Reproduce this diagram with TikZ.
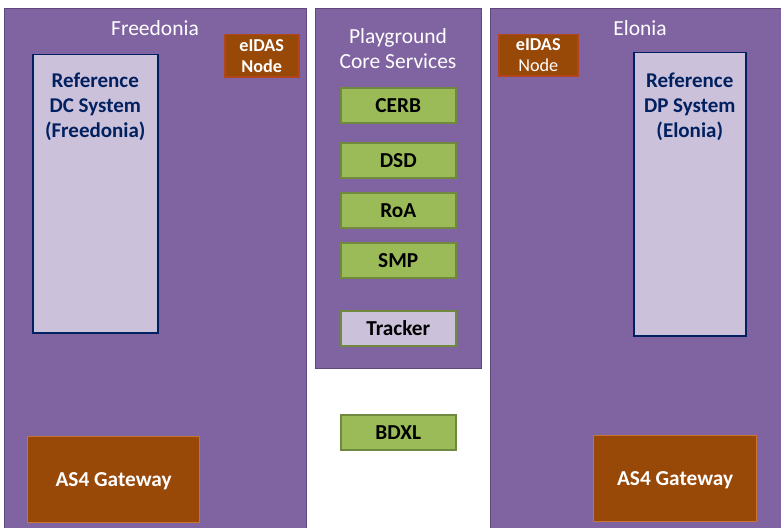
\documentclass[tikz,border=0pt]{standalone}
\usepackage{fontspec}
\setmainfont{Carlito}
\definecolor{panelfill}{HTML}{8064A2}
\definecolor{paneldraw}{HTML}{5E497C}
\definecolor{lavender}{HTML}{CCC1DA}
\definecolor{navy}{HTML}{002060}
\definecolor{brownfill}{HTML}{984807}
\definecolor{eidasdraw}{HTML}{B0451E}
\definecolor{gwdraw}{HTML}{C8732E}
\definecolor{greenfill}{HTML}{9BBB59}
\definecolor{greendraw}{HTML}{71893F}
\tikzset{
  panel/.style={draw=paneldraw, fill=panelfill, line width=1pt, anchor=north west, inner sep=0pt},
  paneltitle/.style={text=white, font=\fontsize{21.5}{25}\selectfont, align=center, inner sep=0pt},
  refsys/.style={draw=navy, fill=lavender, line width=1.5pt, anchor=north west, inner sep=0pt},
  reftext/.style={text=navy, font=\bfseries\fontsize{21}{25}\selectfont, align=center, inner sep=0pt, anchor=center},
  eidas/.style={draw=eidasdraw, fill=brownfill, line width=1.5pt, text=white, font=\fontsize{18.2}{21}\selectfont, align=center, inner sep=0pt, anchor=north west},
  gateway/.style={draw=gwdraw, fill=brownfill, line width=1.2pt, text=white, font=\bfseries\fontsize{21.3}{25}\selectfont, align=center, inner sep=0pt, anchor=north west, text depth=0.5pt},
  service/.style={draw=greendraw, fill=greenfill, line width=1.5pt, text=black, font=\bfseries\fontsize{21.3}{25}\selectfont, inner sep=0pt, anchor=north west, minimum width=115pt, minimum height=35pt},
}
\begin{document}
\begin{tikzpicture}[x=1pt,y=-1pt]
\useasboundingbox (0,0) rectangle (781,527);
% panels
\node[panel, minimum width=302pt, minimum height=522pt] (freedonia) at (4,8) {};
\node[panel, minimum width=166pt, minimum height=360pt] (core) at (315,8) {};
\node[panel, minimum width=295pt, minimum height=522pt] (elonia) at (490,8) {};
% titles
\node[paneltitle] (tfree) at (155,28) {Freedonia};
\node[paneltitle] (tcore) at (398,48.5) {Playground\\Core Services};
\node[paneltitle] (telon) at (640,28) {Elonia};
% eIDAS nodes
\node[eidas, minimum width=74pt, minimum height=42pt] (eidasL) at (224,34) {\textbf{eIDAS}\\\textbf{Node}};
\node[eidas, minimum width=79pt, minimum height=41pt] (eidasR) at (498,34) {\textbf{eIDAS}\\Node};
% reference systems
\node[refsys, minimum width=125pt, minimum height=278pt] (dc) at (32,54) {};
\node[reftext] (dct) at ([yshift=-53pt]dc.north) {Reference\\DC System\\(Freedonia)};
\node[refsys, minimum width=112pt, minimum height=283pt] (dp) at (633,52) {};
\node[reftext] (dpt) at ([yshift=-55pt]dp.north) {Reference\\DP System\\(Elonia)};
% gateways
\node[gateway, minimum width=172pt, minimum height=86pt] (gwL) at (27,436) {AS4 Gateway};
\node[gateway, minimum width=163pt, minimum height=86pt] (gwR) at (593,435) {AS4 Gateway};
% services
\node[service] (cerb) at (340,87) {CERB};
\node[service] (dsd) at (340,142) {DSD};
\node[service] (roa) at (340,192) {RoA};
\node[service] (smp) at (340,242) {SMP};
\node[service, fill=lavender] (tracker) at (340,310) {Tracker};
\node[service] (bdxl) at (340,414) {BDXL};
\end{tikzpicture}
\end{document}
